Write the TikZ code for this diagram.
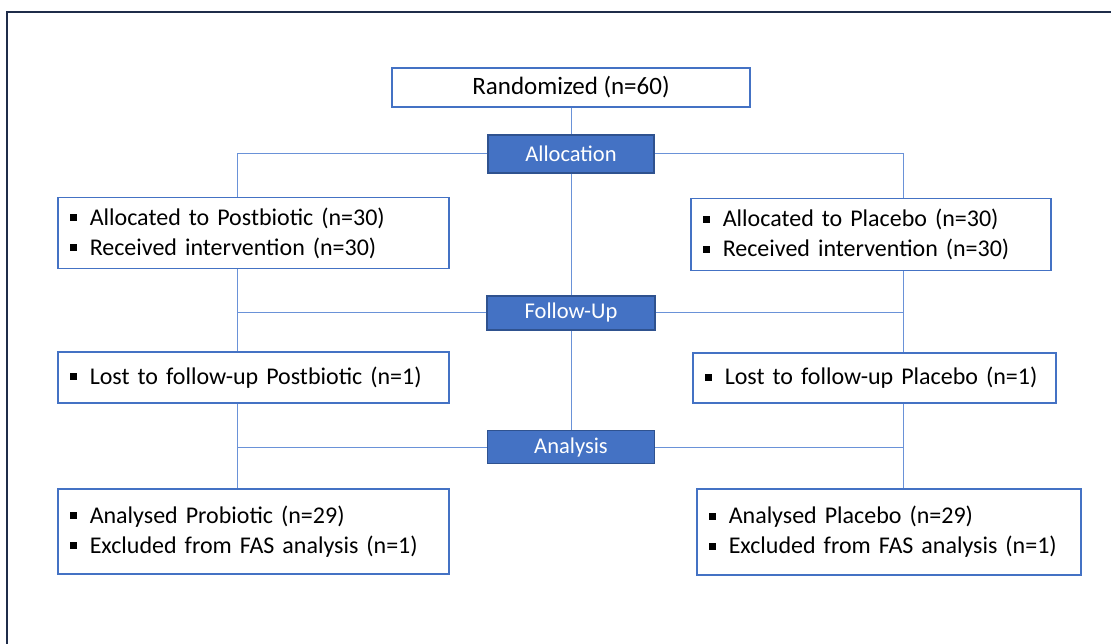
\documentclass[tikz,border=0pt]{standalone}
\usepackage{fontspec}
\setmainfont{Carlito}
\usepackage{xcolor}
\usepackage{tikz}

\definecolor{boxblue}{HTML}{4472C4}
\definecolor{stageedge}{HTML}{2F528F}
\definecolor{linkblue}{HTML}{6A92D8}
\definecolor{frameblue}{HTML}{1F2D4A}
\newcommand{\sqbullet}{\makebox[20pt][l]{\rule[4pt]{7pt}{7pt}}}

\begin{document}
\begin{tikzpicture}[x=1pt, y=-1pt, line width=1pt,
    box/.style={draw=boxblue, line width=1.5pt, anchor=north west, inner xsep=12pt, align=left, font=\fontsize{24}{30}\selectfont},
    stage/.style={draw=stageedge, fill=boxblue, text=white, line width=1.5pt, font=\fontsize{22.5}{26}\selectfont},
    link/.style={draw=linkblue, line width=1pt}]
    \useasboundingbox (0,0) rectangle (1111,644);
    \draw[frameblue, line width=2pt] (7,644) -- (7,12) -- (1111,12);

    \node[draw=boxblue, line width=1.5pt, minimum width=358pt, minimum height=39pt, font=\fontsize{25}{30}\selectfont] (rand) at (571,87.5) {Randomized (n=60)};
    \node[stage, minimum width=166pt, minimum height=38pt] (alloc) at (571,154) {Allocation};
    \node[stage, minimum width=168pt, minimum height=34pt] (follow) at (571,313) {Follow-Up};
    \node[stage, minimum width=167pt, minimum height=33pt] (analysis) at (571,447) {Analysis};

    \node[box, text width=367pt, minimum height=71pt] (post1) at (57,197) {\sqbullet Allocated to Postbiotic (n=30)\\ \sqbullet Received intervention (n=30)};
    \node[box, text width=367pt, minimum height=51pt] (post2) at (57,351) {\sqbullet Lost to follow-up Postbiotic (n=1)};
    \node[box, text width=367pt, minimum height=85pt] (post3) at (57,488) {\sqbullet Analysed Probiotic (n=29)\\ \sqbullet Excluded from FAS analysis (n=1)};

    \node[box, text width=336pt, minimum height=72pt] (plac1) at (690,198) {\sqbullet Allocated to Placebo (n=30)\\ \sqbullet Received intervention (n=30)};
    \node[box, text width=339pt, minimum height=50pt] (plac2) at (692,352) {\sqbullet Lost to follow-up Placebo (n=1)};
    \node[box, text width=360pt, minimum height=86pt] (plac3) at (696,488) {\sqbullet Analysed Placebo (n=29)\\ \sqbullet Excluded from FAS analysis (n=1)};

    % branch columns
    \coordinate (lx) at (237,0);
    \coordinate (rx) at (903,0);

    \draw[link] (rand) -- (alloc) -- (follow) -- (analysis);
    \draw[link] (alloc.west) -| (lx |- post1.north);
    \draw[link] (alloc.east) -| (rx |- plac1.north);
    \draw[link] (lx |- post1.south) -- (lx |- post2.north);
    \draw[link] (rx |- plac1.south) -- (rx |- plac2.north);
    \draw[link] (lx |- post2.south) -- (lx |- post3.north);
    \draw[link] (rx |- plac2.south) -- (rx |- plac3.north);
    \draw[link] (follow.west) -- (lx |- follow.west);
    \draw[link] (follow.east) -- (rx |- follow.east);
    \draw[link] (analysis.west) -- (lx |- analysis.west);
    \draw[link] (analysis.east) -- (rx |- analysis.east);
\end{tikzpicture}
\end{document}
